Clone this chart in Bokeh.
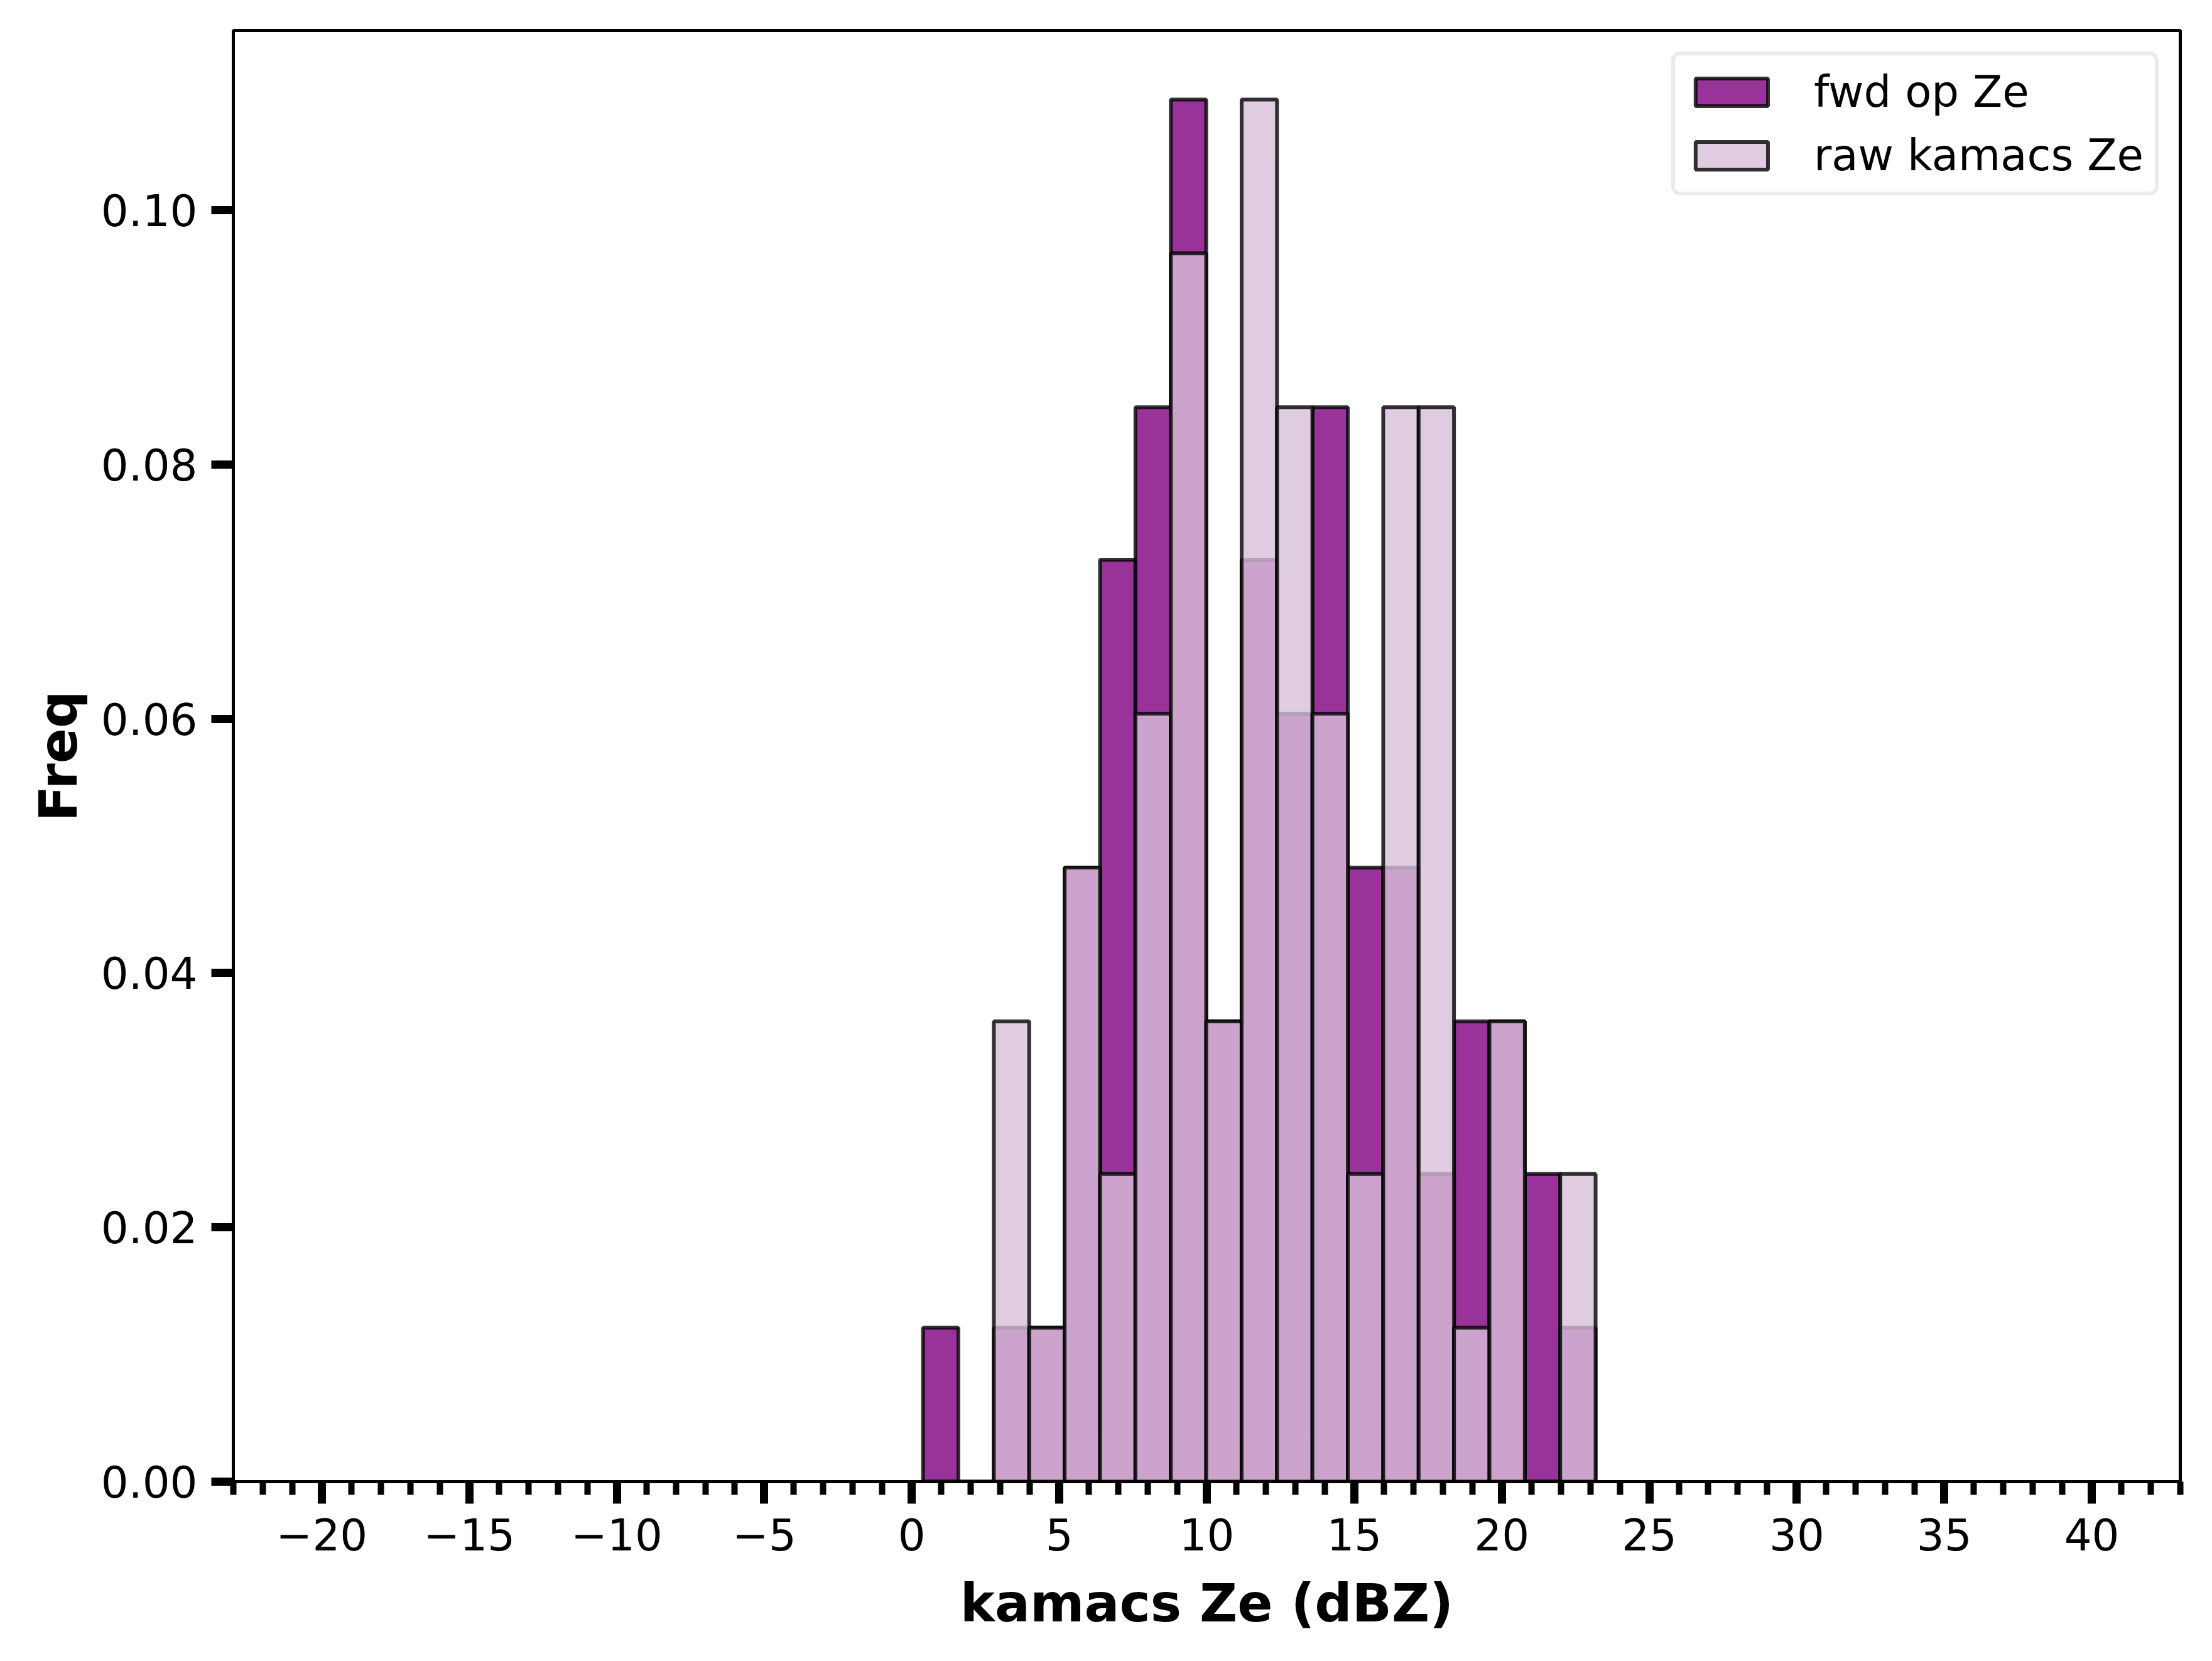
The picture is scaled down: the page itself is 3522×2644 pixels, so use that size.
from bokeh.plotting import figure
from bokeh.models import Range1d, FixedTicker, Legend, LegendItem, ColumnDataSource
from bokeh.embed import file_html
from bokeh.resources import INLINE

# ---- data ----
bin_left = [0.38, 1.58, 2.78, 3.98, 5.18, 6.38, 7.58, 8.78, 9.98, 11.18,
            12.38, 13.58, 14.78, 15.98, 17.18, 18.38, 19.58, 20.78, 21.98]
bin_right = [1.58, 2.78, 3.98, 5.18, 6.38, 7.58, 8.78, 9.98, 11.18, 12.38,
             13.58, 14.78, 15.98, 17.18, 18.38, 19.58, 20.78, 21.98, 23.18]
fwd_freq = [0.0121, 0.0, 0.0121, 0.0121, 0.0483, 0.0725, 0.0845, 0.1087, 0.0362, 0.0725,
            0.0604, 0.0845, 0.0483, 0.0483, 0.0242, 0.0362, 0.0362, 0.0242, 0.0121]
raw_freq = [0.0, 0.0, 0.0362, 0.0121, 0.0483, 0.0242, 0.0604, 0.0966, 0.0362, 0.1087,
            0.0845, 0.0604, 0.0242, 0.0845, 0.0845, 0.0121, 0.0362, 0.0, 0.0242]
series_names = ["fwd op Ze", "raw kamacs Ze"]

x_ticks = [-20, -15, -10, -5, 0, 5, 10, 15, 20, 25, 30, 35, 40]
x_tick_labels = ["\u221220", "\u221215", "\u221210", "\u22125", "0", "5", "10",
                 "15", "20", "25", "30", "35", "40"]
x_minor_ticks = [-23, -22, -21, -20, -19, -18, -17, -16, -15, -14, -13, -12, -11,
                 -10, -9, -8, -7, -6, -5, -4, -3, -2, -1, 0, 1, 2, 3, 4, 5, 6, 7,
                 8, 9, 10, 11, 12, 13, 14, 15, 16, 17, 18, 19, 20, 21, 22, 23, 24,
                 25, 26, 27, 28, 29, 30, 31, 32, 33, 34, 35, 36, 37, 38, 39, 40,
                 41, 42, 43]
y_ticks = [0.0, 0.02, 0.04, 0.06, 0.08, 0.10]
y_tick_labels = ["0.00", "0.02", "0.04", "0.06", "0.08", "0.10"]
x_limits = (-23, 43)
y_limits = (0, 0.11413)

FONT = "DejaVu Sans"

p = figure(width=3510, height=2630, output_backend="svg", toolbar_location=None,
           x_range=Range1d(*x_limits), y_range=Range1d(*y_limits),
           min_border_left=371, min_border_right=39, min_border_top=48,
           min_border_bottom=272)
p.background_fill_color = "white"
p.border_fill_color = "white"
p.xgrid.visible = False
p.ygrid.visible = False
p.outline_line_color = "black"
p.outline_line_width = 5

src_fwd = ColumnDataSource(dict(left=bin_left, right=bin_right, top=fwd_freq,
                                bottom=[0] * len(fwd_freq)))
src_raw = ColumnDataSource(dict(left=bin_left, right=bin_right, top=raw_freq,
                                bottom=[0] * len(raw_freq)))

r_fwd = p.quad(left="left", right="right", top="top", bottom="bottom", source=src_fwd,
               fill_color="#800080", fill_alpha=0.8,
               line_color="black", line_alpha=0.8, line_width=6)
r_raw = p.quad(left="left", right="right", top="top", bottom="bottom", source=src_raw,
               fill_color="#D8BFD8", fill_alpha=0.8,
               line_color="black", line_alpha=0.8, line_width=6)

# x axis
xa = p.xaxis[0]
xa.ticker = FixedTicker(ticks=x_ticks, minor_ticks=x_minor_ticks)
xa.major_label_overrides = {t: l for t, l in zip(x_ticks, x_tick_labels)}
xa.axis_label = "kamacs Ze (dBZ)"
# y axis
ya = p.yaxis[0]
ya.ticker = FixedTicker(ticks=y_ticks, minor_ticks=[])
ya.major_label_overrides = {t: l for t, l in zip(y_ticks, y_tick_labels)}
ya.axis_label = "Freq"

for ax in (xa, ya):
    ax.axis_line_color = "black"
    ax.axis_line_width = 5
    ax.major_tick_line_color = "black"
    ax.minor_tick_line_color = "black"
    ax.major_tick_in = 0
    ax.minor_tick_in = 0
    ax.major_tick_out = 35
    ax.major_tick_line_width = 13
    ax.minor_tick_out = 21
    ax.minor_tick_line_width = 10
    ax.major_label_text_font = FONT
    ax.major_label_text_font_size = "69px"
    ax.major_label_text_color = "black"
    ax.axis_label_text_font = FONT
    ax.axis_label_text_font_size = "83px"
    ax.axis_label_text_font_style = "bold"
    ax.axis_label_text_color = "black"

xa.major_label_standoff = 23
xa.axis_label_standoff = 33
ya.major_label_standoff = 22
ya.axis_label_standoff = 16

legend = Legend(items=[LegendItem(label=series_names[0], renderers=[r_fwd]),
                       LegendItem(label=series_names[1], renderers=[r_raw])],
                location="top_right")
legend.margin = 34
legend.padding = 18
legend.spacing = 21
legend.glyph_width = 144
legend.glyph_height = 55
legend.label_standoff = 59
legend.label_text_font = FONT
legend.label_text_font_size = "69px"
legend.label_text_color = "black"
legend.border_line_color = "#d6d6d6"
legend.border_line_width = 6
legend.background_fill_color = "white"
legend.background_fill_alpha = 0.8
if "border_radius" in Legend.properties():
    legend.border_radius = 14
p.add_layout(legend)

open("out.html", "w").write(file_html(p, INLINE))
